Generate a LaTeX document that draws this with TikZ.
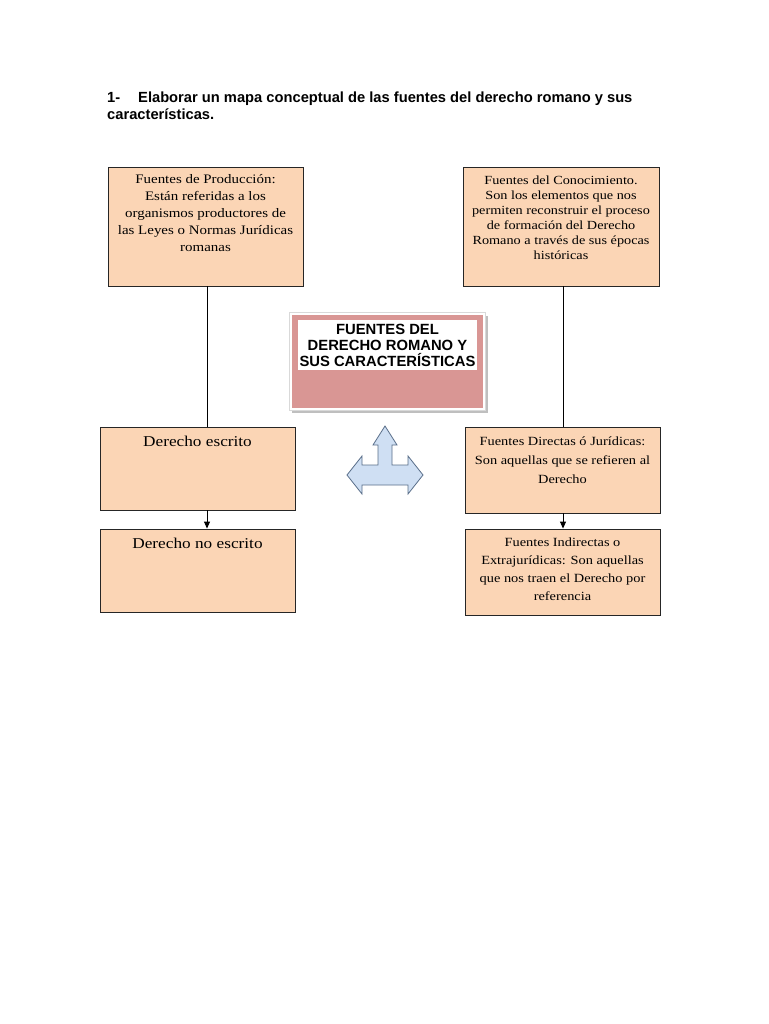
\documentclass[tikz,border=0pt]{standalone}
\usepackage{fontspec}
\setmainfont{Liberation Serif}
\newfontfamily\boxfont{Liberation Serif}[FakeStretch=1.15]
\newfontfamily\arialfont{Liberation Sans}
\usetikzlibrary{arrows.meta,positioning}

\definecolor{peach}{HTML}{FBD5B5}
\definecolor{rosa}{HTML}{D99694}
\definecolor{sombra}{HTML}{BFBFBF}
\definecolor{celeste}{HTML}{C6D9F1}
\definecolor{azulborde}{HTML}{5A6F8A}

\begin{document}
\begin{tikzpicture}[x=1pt,y=-1pt,
  fuente/.style={draw=black!85,fill=peach,line width=0.9pt,minimum width=195pt,inner sep=0pt},
  texto/.style={inner sep=0pt,align=center,font=\boxfont\fontsize{13}{17}\selectfont},
  flecha/.style={-{Triangle[length=7pt,width=6pt]},line width=0.9pt}]
\useasboundingbox[fill=white] (0,0) rectangle (768,1024);

% enunciado
\node[anchor=base west,inner sep=0pt,font=\arialfont\bfseries\fontsize{14.7}{16}\selectfont] (num) at (107,103) {1-};
\node[anchor=base west,inner sep=0pt,font=\arialfont\bfseries\fontsize{14.7}{16}\selectfont] (enunciado) at (138,103) {Elaborar un mapa conceptual de las fuentes del derecho romano y sus};
\node[anchor=base west,inner sep=0pt,font=\arialfont\bfseries\fontsize{14.7}{16}\selectfont] (enunciado2) at (107,120) {características.};

% fuentes de produccion (izquierda)
\node[fuente,minimum height=119pt] (prod) at (205.5,226.5) {};
\node[texto,below=8pt of prod.north] (prodtxt) {Fuentes de Producción:\\Están referidas a los\\organismos productores de\\las Leyes o Normas Jurídicas\\romanas};
\node[fuente,minimum height=83pt] (escrito) at (197.5,468.5) {};
\node[texto,font=\boxfont\fontsize{15}{18}\selectfont,below=9pt of escrito.north] (escritotxt) {Derecho escrito};
\node[fuente,minimum height=83pt] (noescrito) at (197.5,570.5) {};
\node[texto,font=\boxfont\fontsize{15}{18}\selectfont,below=9pt of noescrito.north] (noescritotxt) {Derecho no escrito};

% fuentes del conocimiento (derecha)
\node[fuente,minimum width=196pt,minimum height=119pt] (conoc) at (561,226.5) {};
\node[texto,font=\boxfont\fontsize{12.4}{15}\selectfont,below=9pt of conoc.north] (conoctxt) {Fuentes del Conocimiento.\\Son los elementos que nos\\permiten reconstruir el proceso\\de formación del Derecho\\Romano a través de sus épocas\\históricas};
\node[fuente,minimum height=86pt] (directas) at (562.5,470) {};
\node[texto,font=\boxfont\fontsize{12.5}{19}\selectfont,below=10pt of directas.north] (directastxt) {Fuentes Directas ó Jurídicas:\\Son aquellas que se refieren al\\Derecho};
\node[fuente,minimum height=86pt] (indirectas) at (562.5,572) {};
\node[texto,font=\boxfont\fontsize{12.5}{18}\selectfont,below=9pt of indirectas.north] (indirectastxt) {Fuentes Indirectas o\\Extrajurídicas: Son aquellas\\que nos traen el Derecho por\\referencia};

% conectores
\draw[line width=0.9pt] (prod.south -| 207,0) -- (escrito.north -| 207,0);
\draw[flecha] (escrito.south -| 207,0) -- (noescrito.north -| 207,0);
\draw[line width=0.9pt] (conoc.south -| 563,0) -- (directas.north -| 563,0);
\draw[flecha] (directas.south -| 563,0) -- (indirectas.north -| 563,0);

% titulo central
\fill[sombra] (292,316) rectangle (488,413);
\draw[fill=white,draw=sombra!60] (289,312) rectangle (485,410);
\fill[rosa] (292,315) rectangle (483,408);
\fill[white] (298,320) rectangle (477,370);
\node[inner sep=0pt,align=center,font=\arialfont\bfseries\fontsize{14.8}{16}\selectfont] (titulo) at (387.5,345) {FUENTES DEL\\DERECHO ROMANO Y\\SUS CARACTERÍSTICAS};

% flecha triple
\draw[fill=celeste!85,draw=azulborde,line width=0.8pt,line join=miter]
  (385,426) -- (397,445) -- (392,445) -- (392,465) -- (408,465) -- (408,456)
  -- (423,475) -- (408,494) -- (408,485) -- (362,485) -- (362,494) -- (347,475)
  -- (362,456) -- (362,465) -- (378,465) -- (378,445) -- (373,445) -- cycle;
\end{tikzpicture}
\end{document}
